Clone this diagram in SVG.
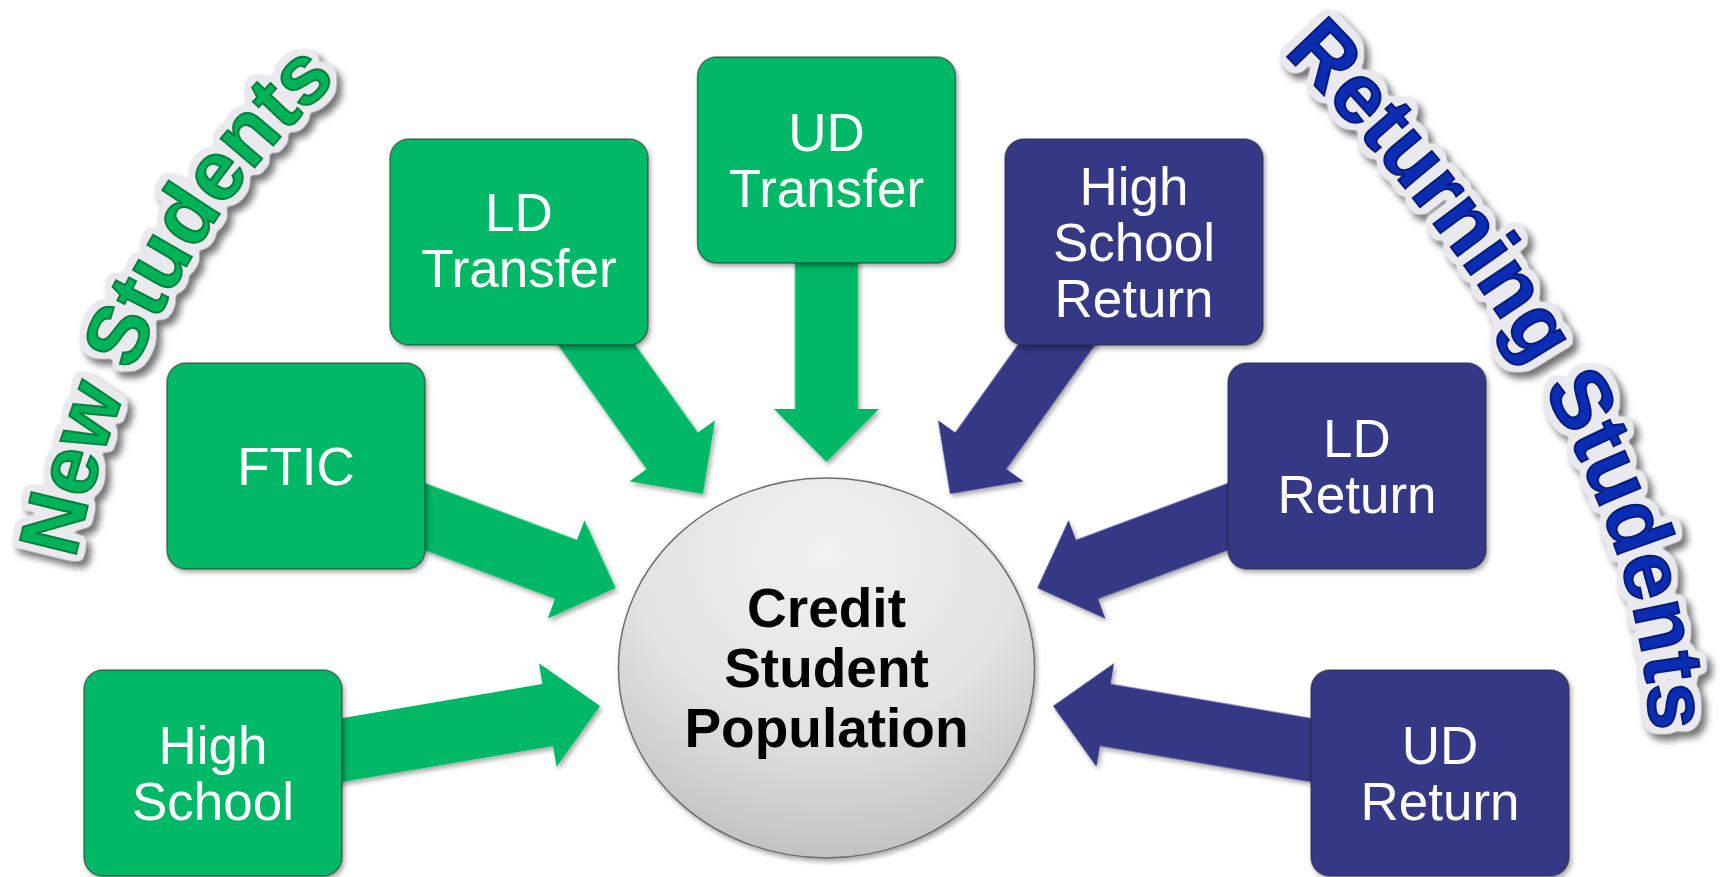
<svg xmlns="http://www.w3.org/2000/svg" width="1723" height="877" viewBox="0 0 1723 877">
  <style>
    .green { fill: #00B865; }
    .blue { fill: #343785; }
    .box { stroke: #2a2a2a; stroke-opacity: 0.55; stroke-width: 1.5; filter: url(#shadow); }
    .lbl { font-family: "Liberation Sans", Arial, sans-serif; font-size: 53px; fill: #FFFFFF; text-anchor: middle; }
    .clbl { font-family: "Liberation Sans", Arial, sans-serif; font-size: 55px; font-weight: bold; fill: #000000; text-anchor: middle; }
    .wa { font-family: "Liberation Sans", Arial, sans-serif; font-size: 84px; font-weight: bold; filter: url(#wordart); }
    .wa-green { fill: #00B359; stroke: #067F3E; stroke-width: 2; }
    .wa-blue { fill: #0A2DB3; stroke: #061A78; stroke-width: 2; }
  </style>
  <defs>
    <filter id="shadow" x="-20%" y="-20%" width="140%" height="140%">
      <feDropShadow dx="2" dy="3" stdDeviation="2.5" flood-color="#000000" flood-opacity="0.35"/>
    </filter>
    <filter id="wordart" x="-15%" y="-15%" width="130%" height="130%" color-interpolation-filters="sRGB">
      <feMorphology in="SourceAlpha" operator="dilate" radius="5" result="d1"/>
      <feGaussianBlur in="d1" stdDeviation="2.5" result="d2"/>
      <feComponentTransfer in="d2" result="dil">
        <feFuncA type="linear" slope="4" intercept="-0.6"/>
      </feComponentTransfer>
      <feFlood flood-color="#E9E9EE" result="c"/>
      <feComposite in="c" in2="dil" operator="in" result="outline"/>
      <feGaussianBlur in="dil" stdDeviation="3.5" result="b"/>
      <feOffset in="b" dx="5" dy="6" result="o"/>
      <feFlood flood-color="#000000" flood-opacity="0.55" result="sc"/>
      <feComposite in="sc" in2="o" operator="in" result="shadowed"/>
      <feMerge>
        <feMergeNode in="shadowed"/>
        <feMergeNode in="outline"/>
        <feMergeNode in="SourceGraphic"/>
      </feMerge>
    </filter>
    <radialGradient id="circGrad" cx="50%" cy="20%" r="85%">
      <stop offset="0" stop-color="#F2F2F2"/>
      <stop offset="0.55" stop-color="#E2E2E2"/>
      <stop offset="1" stop-color="#BDBDBD"/>
    </radialGradient>
    <polygon id="arrow" points="0,0 -53,-52.5 -53,-31.5 -300,-31.5 -300,31.5 -53,31.5 -53,52.5"/>
    <path id="newPath" d="M75,560 C115,374 197.5,206 338,80" fill="none"/>
    <path id="retPath" d="M1280,50 C1459,230 1645,485 1650,736" fill="none"/>
  </defs>

  <rect x="0" y="0" width="1723" height="877" fill="#FFFFFF"/>

  <g id="connectors" filter="url(#shadow)">
    <use href="#arrow" class="green" transform="translate(600,706) rotate(-9.7)"/>
    <use href="#arrow" class="green" transform="translate(615.7,588) rotate(20.5)"/>
    <use href="#arrow" class="green" transform="translate(703,494) rotate(54.5)"/>
    <use href="#arrow" class="green" transform="translate(826.5,462) rotate(90)"/>
    <use href="#arrow" class="blue" transform="translate(950,494) rotate(125.5)"/>
    <use href="#arrow" class="blue" transform="translate(1037.3,588) rotate(159.5)"/>
    <use href="#arrow" class="blue" transform="translate(1053,706) rotate(189.7)"/>
  </g>

  <g id="center">
    <ellipse cx="826.5" cy="668" rx="208" ry="190" fill="url(#circGrad)" stroke="#6E6E6E" stroke-width="1.5" filter="url(#shadow)"/>
    <text class="clbl" x="826.5" y="627">Credit</text>
    <text class="clbl" x="826.5" y="687">Student</text>
    <text class="clbl" x="826.5" y="747">Population</text>
  </g>

  <g id="high-school">
    <rect class="box green" x="84" y="670" width="258" height="206" rx="19"/>
    <text class="lbl" x="213" y="764">High</text>
    <text class="lbl" x="213" y="820">School</text>
  </g>
  <g id="ftic">
    <rect class="box green" x="167" y="363" width="258" height="206" rx="19"/>
    <text class="lbl" x="296" y="485">FTIC</text>
  </g>
  <g id="ld-transfer">
    <rect class="box green" x="390" y="139" width="258" height="206" rx="19"/>
    <text class="lbl" x="519" y="231">LD</text>
    <text class="lbl" x="519" y="287">Transfer</text>
  </g>
  <g id="ud-transfer">
    <rect class="box green" x="697.5" y="57" width="258" height="206" rx="19"/>
    <text class="lbl" x="826.5" y="151">UD</text>
    <text class="lbl" x="826.5" y="207">Transfer</text>
  </g>
  <g id="high-school-return">
    <rect class="box blue" x="1005" y="139" width="258" height="206" rx="19"/>
    <text class="lbl" x="1134" y="205">High</text>
    <text class="lbl" x="1134" y="261">School</text>
    <text class="lbl" x="1134" y="317">Return</text>
  </g>
  <g id="ld-return">
    <rect class="box blue" x="1228" y="363" width="258" height="206" rx="19"/>
    <text class="lbl" x="1357" y="457">LD</text>
    <text class="lbl" x="1357" y="513">Return</text>
  </g>
  <g id="ud-return">
    <rect class="box blue" x="1311" y="670" width="258" height="206" rx="19"/>
    <text class="lbl" x="1440" y="764">UD</text>
    <text class="lbl" x="1440" y="820">Return</text>
  </g>

  <g id="new-students-title">
    <text class="wa wa-green"><textPath href="#newPath" startOffset="50%" text-anchor="middle">New Students</textPath></text>
  </g>
  <g id="returning-students-title">
    <text class="wa wa-blue" letter-spacing="0.5"><textPath href="#retPath" startOffset="50%" text-anchor="middle">Returning Students</textPath></text>
  </g>
</svg>
